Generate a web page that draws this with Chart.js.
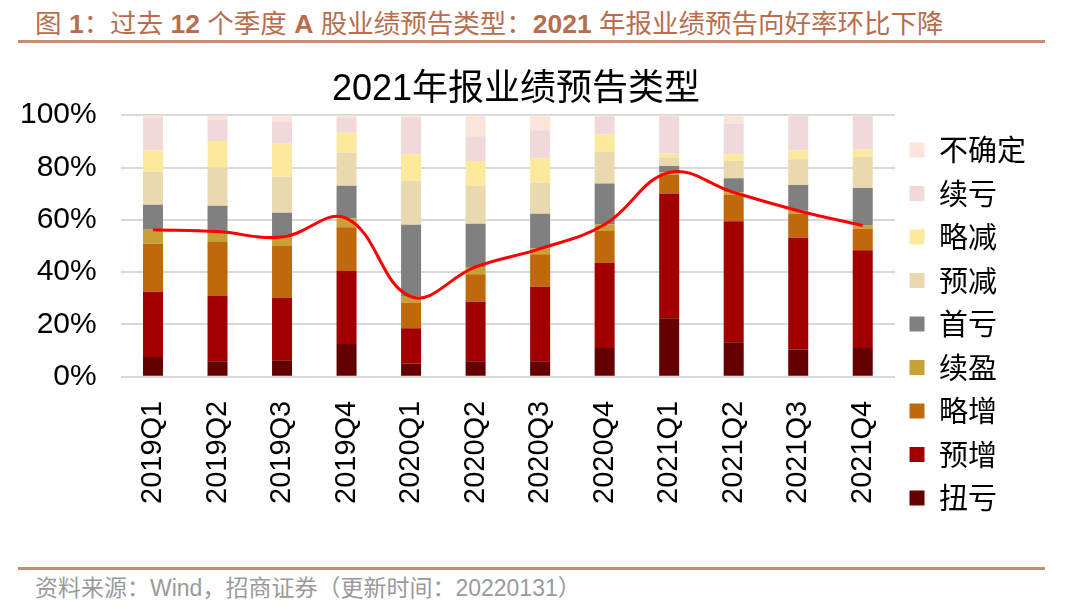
<!DOCTYPE html>
<html>
<head>
<meta charset="utf-8">
<script src="https://cdn.jsdelivr.net/npm/chart.js@4.4.1/dist/chart.umd.min.js"></script>
<style>
  html, body { margin: 0; padding: 0; background: #fff; }
  body { width: 1080px; height: 611px; position: relative; overflow: hidden;
         font-family: 'Liberation Sans', 'Noto Sans CJK SC', sans-serif; }
  #head { position: absolute; left: 35px; top: 2px; font-size: 26.5px; color: #b86d4d; white-space: nowrap; }
  #head b { font-family: 'Liberation Sans', Arial, sans-serif; }
  .rule { position: absolute; left: 18px; width: 1027px; height: 3px; background: #c98a70; }
  #foot { position: absolute; left: 35px; top: 569px; font-size: 23px; color: #9a9a9a; white-space: nowrap; }
  #wrap { position: absolute; left: -20px; top: 50px; width: 1066px; height: 481px; }
</style>
</head>
<body>
<div id="head">图 <b>1</b>：过去 <b>12</b> 个季度 <b>A</b> 股业绩预告类型：<b>2021</b> 年报业绩预告向好率环比下降</div>
<div class="rule" style="top:40px"></div>
<div id="wrap"><canvas id="grafico-yugao"></canvas></div>
<div class="rule" style="top:567px"></div>
<div id="foot">资料来源：Wind，招商证券（更新时间：20220131）</div>

<script>
// 季度
var quarters = ['2019Q1', '2019Q2', '2019Q3', '2019Q4', '2020Q1', '2020Q2',
                '2020Q3', '2020Q4', '2021Q1', '2021Q2', '2021Q3', '2021Q4'];

// 各类型占比 (%)，从下往上
var niukui    = [7.6, 5.9, 6.3, 12.5, 5.1, 5.9, 5.9, 11.0, 22.4, 13.2, 10.4, 11.0];
var yuzeng    = [24.9, 25.0, 23.8, 27.9, 13.5, 22.8, 28.5, 32.5, 47.7, 46.3, 42.8, 37.4];
var luezeng   = [18.4, 20.6, 19.9, 16.8, 9.8, 10.5, 12.4, 12.2, 7.1, 10.1, 9.1, 8.2];
var xuying    = [5.3, 4.0, 3.4, 3.4, 2.2, 2.8, 2.2, 2.5, 0.9, 0.9, 1.2, 1.2];
var shoukui   = [9.6, 9.9, 9.3, 12.4, 27.5, 16.5, 13.3, 15.7, 2.5, 5.4, 9.8, 14.4];
var yujian    = [12.7, 14.6, 13.8, 12.7, 16.8, 14.5, 12.0, 12.2, 3.2, 6.6, 9.9, 11.9];
var luejian   = [8.1, 10.1, 12.6, 7.6, 10.2, 9.5, 9.2, 6.6, 1.5, 2.6, 3.4, 2.9];
var xukui     = [12.4, 8.3, 8.4, 5.7, 14.1, 9.5, 10.7, 6.9, 14.3, 11.6, 13.0, 12.6];
var buqueding = [1.0, 1.6, 2.5, 1.0, 0.8, 8.0, 5.8, 0.4, 0.4, 3.3, 0.4, 0.4];

// 向好率 (%)
var xianghao  = [56.2, 55.5, 53.4, 60.6, 30.6, 42.0, 49.0, 58.2, 78.1, 70.5, 63.5, 57.8];

var yTicks = [0, 20, 40, 60, 80, 100];

function barra(label, cor, dados) {
	return {
		type: 'bar',
		label: label,
		data: dados,
		backgroundColor: cor,
		borderWidth: 0,
		stack: 'tipos',
		order: 1,
		barPercentage: 0.62,
		categoryPercentage: 0.5
	};
}

var ctx = document.getElementById('grafico-yugao');

var datasets = [
	barra('扭亏', '#650000', niukui),
	barra('预增', '#a20000', yuzeng),
	barra('略增', '#c0690c', luezeng),
	barra('续盈', '#c9a035', xuying),
	barra('首亏', '#808080', shoukui),
	barra('预减', '#ead9ae', yujian),
	barra('略减', '#fde99c', luejian),
	barra('续亏', '#f1d8da', xukui),
	barra('不确定', '#fbe5da', buqueding),
	{
		type: 'line',
		label: '向好率',
		data: xianghao,
		borderColor: '#ff0000',
		borderWidth: 3,
		pointRadius: 0,
		fill: false,
		tension: 0.4,
		stack: 'linha',
		order: 0
	}
];

var chartYugao = new Chart(ctx, {
	type: 'bar',
	data: { labels: quarters, datasets: datasets },
	options: {
		responsive: true,
		maintainAspectRatio: false,
		animation: false,
		layout: { padding: { left: 16, right: 10, top: 0, bottom: 4 } },
		plugins: {
			title: {
				display: true,
				text: '2021年报业绩预告类型',
				color: '#000',
				font: { size: 36, weight: 'normal', family: "'Liberation Sans', 'Noto Sans CJK SC', sans-serif" },
				padding: { top: 18, bottom: 4 }
			},
			legend: {
				position: 'right',
				align: 'end',
				reverse: true,
				labels: {
					boxWidth: 15,
					boxHeight: 15,
					padding: 14.5,
					color: '#000',
					font: { size: 29, family: "'Noto Sans CJK SC', sans-serif" },
					filter: function(item) { return item.text !== '向好率'; }
				}
			},
			tooltip: { enabled: false }
		},
		scales: {
			x: {
				stacked: true,
				grid: { display: false },
				border: { display: false },
				afterFit: function(axis) { axis.height += 7; },
				ticks: {
					color: '#000',
					maxRotation: 90,
					minRotation: 90,
					padding: 16,
					font: { size: 29, family: "'Liberation Sans', Arial, sans-serif" }
				}
			},
			y: {
				stacked: true,
				min: 0,
				max: 100,
				afterBuildTicks: function(axis) {
					axis.ticks = yTicks.map(function(v) { return { value: v }; });
				},
				grid: { color: '#d9d9d9', lineWidth: 2, drawTicks: false },
				border: { display: false },
				ticks: {
					color: '#000',
					padding: 24,
					font: { size: 30, family: "'Liberation Sans', Arial, sans-serif" },
					callback: function(v) { return v + '%'; }
				}
			}
		}
	}
});
</script>
</body>
</html>
